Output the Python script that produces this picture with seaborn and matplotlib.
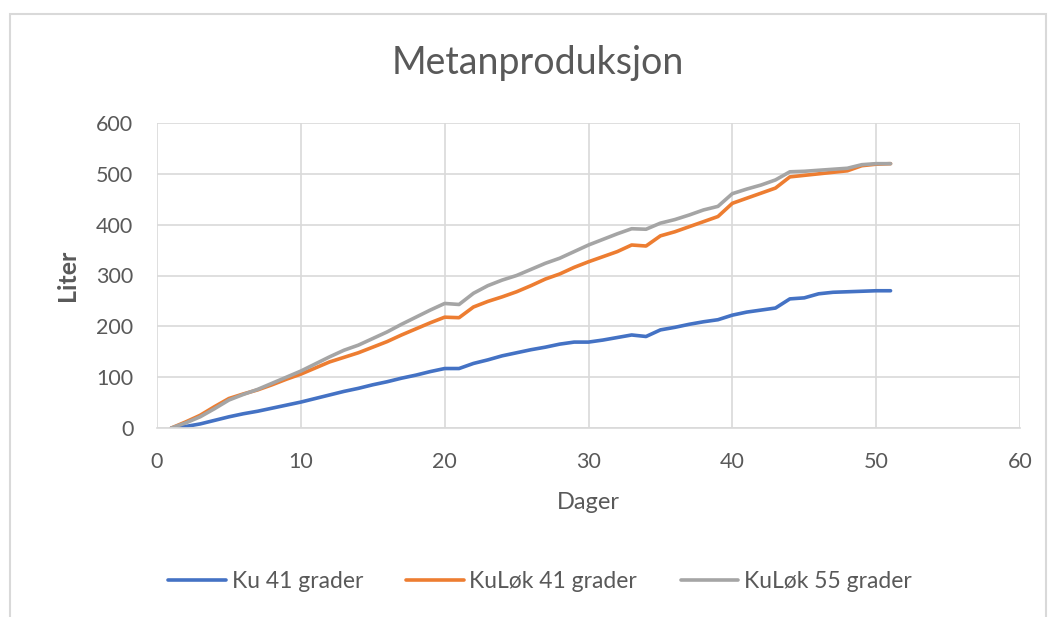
import matplotlib
matplotlib.use("Agg")
import matplotlib.pyplot as plt
import seaborn as sns
import pandas as pd

days = list(range(1, 52))
ku_41 = [0, 3, 8, 15, 22, 28, 33, 39, 45, 51,
         58, 65, 72, 78, 85, 91, 98, 104, 111, 117,
         117, 127, 134, 142, 148, 154, 159, 165, 169, 169,
         173, 178, 183, 180, 193, 198, 204, 209, 213, 222,
         228, 232, 236, 254, 256, 264, 267, 268, 269, 270, 270]
kulok_41 = [0, 12, 25, 42, 58, 67, 75, 85, 96, 106,
            118, 130, 139, 148, 159, 170, 183, 195, 207, 218,
            217, 238, 249, 258, 268, 280, 293, 303, 316, 327,
            337, 347, 360, 358, 378, 386, 396, 406, 416, 442,
            452, 462, 472, 494, 497, 500, 503, 506, 516, 519, 520]
kulok_55 = [0, 10, 22, 38, 55, 66, 76, 88, 100, 112,
            126, 140, 153, 163, 176, 189, 204, 218, 232, 245,
            243, 265, 280, 291, 300, 312, 324, 334, 347, 360,
            371, 382, 392, 391, 403, 410, 419, 429, 436, 461,
            470, 478, 488, 504, 505, 507, 509, 511, 518, 520, 520]

series = ["Ku 41 grader", "KuLøk 41 grader", "KuLøk 55 grader"]
colors = ["#4472C4", "#ED7D31", "#A5A5A5"]

df = pd.DataFrame({"Dager": days, series[0]: ku_41, series[1]: kulok_41, series[2]: kulok_55})
long = df.melt(id_vars="Dager", var_name="serie", value_name="Liter")

sns.set_style("white")
plt.rcParams["font.family"] = ["Lato", "DejaVu Sans"]
text_col = "#595959"

fig = plt.figure(figsize=(10.52, 6.17), dpi=100)
ax = fig.add_axes([157 / 1052, 1 - 428 / 617, (1020 - 157) / 1052, (428 - 123) / 617])

sns.lineplot(data=long, x="Dager", y="Liter", hue="serie", palette=colors,
             linewidth=2.6, ax=ax, legend=False)

ax.set_xlim(0, 60)
ax.set_ylim(0, 600)
ax.set_xticks(range(0, 61, 10))
ax.set_yticks(range(0, 601, 100))
ax.grid(True, color="#D9D9D9", linewidth=1.2)
for side in ["top", "right", "left"]:
    ax.spines[side].set_visible(False)
ax.spines["bottom"].set_color("#D9D9D9")
ax.spines["bottom"].set_linewidth(1.2)
ax.tick_params(axis="both", length=0, labelsize=15.5, colors=text_col, pad=17)
ax.set_xlabel("Dager", fontsize=17, color=text_col, labelpad=15)
ax.set_ylabel("Liter", fontsize=18, color=text_col, fontweight="bold", labelpad=12)

fig.text(538 / 1052, 1 - 63 / 617, "Metanproduksjon", ha="center", va="center",
         fontsize=27, color=text_col)

handles = [plt.Line2D([], [], color=c, linewidth=2.6) for c in colors]
fig.legend(handles, series, loc="center", bbox_to_anchor=(540 / 1052, 1 - 582 / 617),
           ncol=3, frameon=False, fontsize=16.5, handlelength=2.5, handletextpad=0.25,
           columnspacing=1.9, labelcolor=text_col)

border = plt.Rectangle((10 / 1052, -0.05), (1046 - 10) / 1052, 1.05 - 14 / 617,
                       transform=fig.transFigure, fill=False, edgecolor="#D9D9D9",
                       linewidth=1.5)
fig.patches.append(border)

fig.savefig("out.png", dpi=100)
